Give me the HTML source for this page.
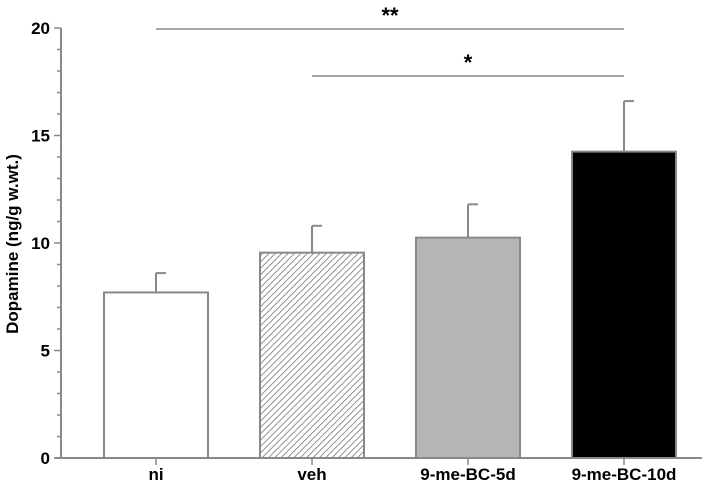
<!DOCTYPE html>
<html><head><style>body{margin:0;background:#fff}svg{display:block;font-family:"Liberation Sans",Arial,sans-serif;font-weight:bold}</style></head>
<body>
<svg width="720" height="490" id="c">
<text transform="translate(18,244) rotate(-90)" text-anchor="middle" font-size="17">Dopamine (ng/g w.wt.)</text>
</svg>
<script>
const categories=["ni","veh","9-me-BC-5d","9-me-BC-10d"];
const values=[7.7,9.55,10.25,14.25];
const errors=[0.9,1.25,1.55,2.35];
const yTicks=[0,5,10,15,20];
const fills=["#fff","url(#hatch)","#b5b5b5","#000"];
const svg=document.getElementById('c');
const NS="http://www.w3.org/2000/svg";
const y=v=>458-v*21.5;
const x0=104, step=156, bw=104;
function mk(t,a,p){const e=document.createElementNS(NS,t);for(const k in a)e.setAttribute(k,a[k]);(p||svg).appendChild(e);return e;}
const defs=mk('defs',{});
const pat=mk('pattern',{id:'hatch',width:4.5,height:4.5,patternUnits:'userSpaceOnUse',patternTransform:'rotate(45)'},defs);
mk('rect',{width:4.5,height:4.5,fill:'#fff'},pat);
mk('line',{x1:0,y1:0,x2:0,y2:4.5,stroke:'#777','stroke-width':1.6},pat);
const ax=mk('line',{x1:61,y1:y(20),x2:61,y2:458,stroke:'#888','stroke-width':2});

const xa=mk('line',{x1:55,y1:458,x2:702,y2:458,stroke:'#888','stroke-width':2});

for(let v=0;v<=20;v++){mk('line',{x1:v%5?57:54,y1:y(v),x2:61,y2:y(v),stroke:'#888','stroke-width':1.5});}
yTicks.forEach(v=>{const t=mk('text',{x:50,y:y(v)+6,'text-anchor':'end','font-size':17});t.textContent=v;
});
categories.forEach((c,i)=>{
 const xl=x0+i*step, cx=xl+bw/2;
 const ey=y(values[i]+errors[i]);
 const el=mk('line',{x1:cx,y1:ey,x2:cx,y2:y(values[i]),stroke:'#888','stroke-width':2});
 
 mk('line',{x1:cx,y1:ey,x2:cx+10,y2:ey,stroke:'#888','stroke-width':2});
 const r=mk('rect',{x:xl,y:y(values[i]),width:bw,height:458-y(values[i]),fill:fills[i],stroke:'#888','stroke-width':2});
 
 mk('line',{x1:cx,y1:458,x2:cx,y2:465,stroke:'#888','stroke-width':1.5});
 const t=mk('text',{x:cx,y:480,'text-anchor':'middle','font-size':17});t.textContent=c;
 
});
function sig(a,b,yy,s,name){
 const l=mk('line',{x1:x0+a*step+bw/2,y1:yy,x2:x0+b*step+bw/2,y2:yy,stroke:'#888','stroke-width':1.5});
 
 const t=mk('text',{x:(x0+a*step+x0+b*step)/2+bw/2,y:yy-6,'text-anchor':'middle','font-size':22});t.textContent=s;
 
}
sig(0,3,29,'**','significance-ni');
sig(1,3,76,'*','significance-veh');
</script>
</body></html>
